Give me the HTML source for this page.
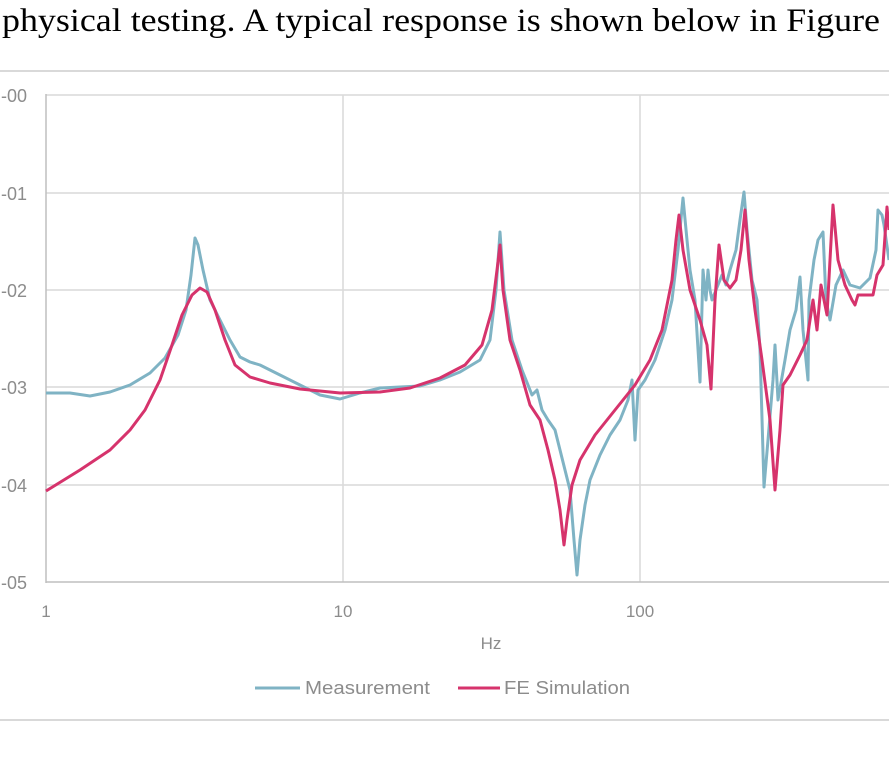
<!DOCTYPE html>
<html><head><meta charset="utf-8"><style>
html,body{margin:0;padding:0;background:#fff;width:889px;height:757px;overflow:hidden}
</style></head><body>
<svg width="889" height="757" xmlns="http://www.w3.org/2000/svg" style="position:absolute;left:0;top:0">
<text x="2" y="31" font-family="Liberation Serif, serif" font-size="33" fill="#000" textLength="878" lengthAdjust="spacingAndGlyphs">physical testing. A typical response is shown below in Figure</text>
<line x1="0" y1="71" x2="889" y2="71" stroke="#d9d9d9" stroke-width="2"/>
<line x1="0" y1="720" x2="889" y2="720" stroke="#d9d9d9" stroke-width="2"/>
<g stroke="#d9d9d9" stroke-width="1.5">
<line x1="46" y1="95" x2="889" y2="95"/>
<line x1="46" y1="193" x2="889" y2="193"/>
<line x1="46" y1="290" x2="889" y2="290"/>
<line x1="46" y1="387" x2="889" y2="387"/>
<line x1="46" y1="485" x2="889" y2="485"/>
<line x1="343" y1="95" x2="343" y2="582"/>
<line x1="640" y1="95" x2="640" y2="582"/>
</g>
<line x1="46" y1="94" x2="46" y2="583" stroke="#bfbfbf" stroke-width="1.5"/>
<line x1="46" y1="582" x2="889" y2="582" stroke="#bfbfbf" stroke-width="1.5"/>
<g font-family="Liberation Sans, sans-serif" font-size="18" fill="#8c8c8c" text-anchor="end">
<text x="27" y="102">-00</text><text x="27" y="200">-01</text><text x="27" y="297">-02</text>
<text x="27" y="394">-03</text><text x="27" y="492">-04</text><text x="27" y="589">-05</text>
</g>
<g font-family="Liberation Sans, sans-serif" font-size="17" fill="#8c8c8c" text-anchor="middle">
<text x="46" y="617">1</text><text x="343" y="617">10</text><text x="640" y="617">100</text>
<text x="491" y="649">Hz</text>
</g>
<polyline fill="none" stroke="#7fb3c4" stroke-width="3" stroke-linejoin="round" points="46,393 70,393 90,396 110,392 130,385 150,373 165,358 178,335 186,310 191,275 195,238 198,245 203,270 210,300 220,320 230,340 240,357 250,362 260,365 280,375 300,385 320,395 340,399 360,393 380,388 400,387 420,386 440,380 460,372 480,360 490,340 496,290 500,232 504,290 512,340 522,370 532,395 537,390 542,410 548,420 555,430 565,470 570,490 574,540 577,575 580,540 585,505 590,480 600,455 610,435 620,420 628,400 632,380 635,440 638,390 645,380 655,360 665,330 672,300 678,250 683,198 687,240 690,270 695,300 700,382 703,270 706,300 708,270 710,290 712,300 718,285 722,275 726,285 730,270 736,250 740,220 744,192 747,230 752,280 757,300 760,350 764,487 768,440 773,380 775,345 778,400 785,360 790,330 796,310 800,277 803,330 808,380 809,300 814,260 818,240 823,232 826,300 830,320 836,285 843,270 850,285 860,288 870,278 876,250 878,210 882,215 884,225 889,260"/>
<polyline fill="none" stroke="#d6336c" stroke-width="3" stroke-linejoin="round" points="46,491 80,470 110,450 130,430 145,410 160,380 172,345 182,315 192,295 200,288 207,292 215,310 225,340 235,365 250,377 270,383 300,389 340,393 380,392 410,388 440,378 465,365 482,345 492,310 497,270 500,245 503,290 510,340 520,370 530,405 540,420 548,450 555,480 560,510 564,545 567,520 572,485 580,460 595,435 615,410 635,385 650,360 662,330 672,280 676,240 679,215 683,250 690,290 700,320 707,345 711,389 715,300 719,245 724,280 730,288 736,280 741,250 745,210 749,260 755,310 762,360 770,420 775,490 780,430 783,385 790,375 800,355 807,340 813,300 817,330 821,285 827,315 833,205 838,260 845,285 852,300 855,305 858,295 873,295 877,275 883,265 887,207 889,230"/>
<line x1="255" y1="688" x2="300" y2="688" stroke="#7fb3c4" stroke-width="3"/>
<line x1="458" y1="688" x2="500" y2="688" stroke="#d6336c" stroke-width="3"/>
<g font-family="Liberation Sans, sans-serif" font-size="18" fill="#8c8c8c">
<text x="305" y="694" textLength="125" lengthAdjust="spacingAndGlyphs">Measurement</text><text x="504" y="694" textLength="126" lengthAdjust="spacingAndGlyphs">FE Simulation</text>
</g>
</svg>
</body></html>
